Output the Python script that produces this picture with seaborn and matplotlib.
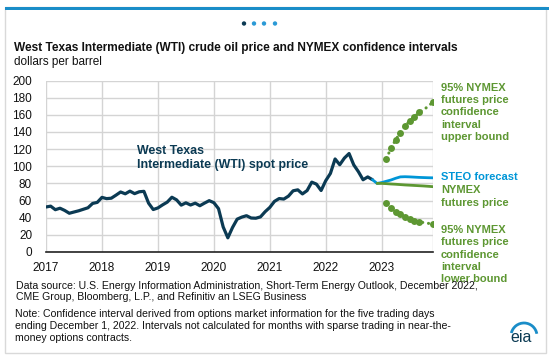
import numpy as np
import pandas as pd
import matplotlib
matplotlib.use("Agg")
import matplotlib.pyplot as plt
from matplotlib.patches import Rectangle, Arc, Ellipse
import seaborn as sns

# monthly WTI spot price, Jan 2017 - Nov 2022
wti_spot = [
    52.50, 53.47, 49.33, 51.06, 48.48, 45.18, 46.63, 48.04, 49.82, 51.58, 56.64, 57.88,
    63.70, 62.23, 62.73, 66.25, 69.98, 67.87, 70.98, 68.06, 70.23, 70.75, 56.96, 49.52,
    51.38, 54.95, 58.15, 63.86, 60.83, 54.66, 57.35, 54.81, 56.95, 53.96, 57.03, 59.88,
    57.52, 50.54, 29.21, 16.55, 28.56, 38.31, 40.71, 42.34, 39.63, 39.40, 40.94, 47.02,
    52.00, 59.04, 62.33, 61.72, 65.17, 71.38, 72.49, 67.73, 71.65, 81.48, 79.15, 71.71,
    83.22, 91.64, 108.50, 101.78, 109.55, 114.84, 101.62, 93.67, 84.26, 87.55, 84.37,
]
# STEO forecast, Nov 2022 - Dec 2023
steo_forecast = [84.4, 80.0, 81.0, 82.5, 84.0, 86.0, 87.6, 87.8, 87.6, 87.3, 87.0, 86.8, 86.6, 86.5]
# NYMEX futures price, Dec 2022 - Dec 2023
nymex_futures = [80.0, 80.0, 79.7, 79.3, 79.0, 78.6, 78.2, 77.9, 77.6, 77.3, 77.0, 76.6, 76.2]
# 95% confidence interval, Feb 2023 - Dec 2023
ci_upper = [109, 121, 131, 139, 146.5, 153, 157, 163, 166, 170, 175]
ci_lower = [56.6, 50.8, 46.9, 43.8, 41.0, 38.4, 36.4, 35.2, 34.3, 33.4, 32.3]
years = [2017, 2018, 2019, 2020, 2021, 2022, 2023]


def month_axis(start_year, start_month, n):
    return [start_year + (start_month - 1 + i) / 12 for i in range(n)]


spot_df = pd.DataFrame({"x": month_axis(2017, 1, len(wti_spot)), "y": wti_spot})
steo_df = pd.DataFrame({"x": month_axis(2022, 11, len(steo_forecast)), "y": steo_forecast})
nymex_df = pd.DataFrame({"x": month_axis(2022, 12, len(nymex_futures)), "y": nymex_futures})
up_df = pd.DataFrame({"x": month_axis(2023, 2, len(ci_upper)), "y": ci_upper})
lo_df = pd.DataFrame({"x": month_axis(2023, 2, len(ci_lower)), "y": ci_lower})

sns.set_style("white")
plt.rcParams["font.family"] = ["Liberation Sans", "DejaVu Sans"]

navy = "#0b3a53"
blue = "#0096d7"
green = "#5d9732"
W, H = 554, 359

fig = plt.figure(figsize=(W / 100, H / 100), dpi=100)
ax = fig.add_axes([46 / W, 1 - 252 / H, (433 - 46) / W, (252 - 80.5) / H])

sns.lineplot(data=spot_df, x="x", y="y", ax=ax, color=navy, linewidth=2.3)
sns.lineplot(data=steo_df, x="x", y="y", ax=ax, color=blue, linewidth=2.0)
sns.lineplot(data=nymex_df, x="x", y="y", ax=ax, color=green, linewidth=2.0)
marks = [0, 1, 2, 3, 4, 5, 6, 7, 10]
for df in (up_df, lo_df):
    sns.lineplot(data=df, x="x", y="y", ax=ax, color=green, linewidth=2.2,
                 linestyle=(0, (0.05, 1.9)), dash_capstyle="round",
                 marker="o", markersize=5, markeredgewidth=0, markevery=marks)

ax.set_xlim(2017, 2023 + 11 / 12)
ax.set_ylim(0, 200)
ax.set_xticks(years + [2023 + 11 / 12])
ax.set_xticklabels([str(y) for y in years] + [""])
ax.set_yticks(range(0, 201, 20))
ax.grid(True, color="#d4d4d4", linewidth=1)
ax.set_xlabel("")
ax.set_ylabel("")
for s in ("top", "right", "left"):
    ax.spines[s].set_visible(False)
ax.spines["bottom"].set_color("#222222")
ax.spines["bottom"].set_linewidth(1.2)
ax.tick_params(axis="x", length=4, width=1, color="#222222", pad=3, labelsize=8.5, labelcolor="#111111")
ax.tick_params(axis="y", length=0, pad=10, labelsize=8.5, labelcolor="#111111")

# frame and header
fig.patches.append(Rectangle((5 / W, 1 - 353 / H), 541 / W, 346 / H, transform=fig.transFigure,
                             fill=False, edgecolor="#d9d9d9", linewidth=1))
fig.patches.append(Rectangle((5 / W, 1 - 10 / H), 544 / W, 3 / H, transform=fig.transFigure,
                             facecolor="#1a8dc8", edgecolor="none"))
for i, cx in enumerate([244, 254, 264, 275]):
    fig.patches.append(Ellipse((cx / W, 1 - 23.5 / H), 4.4 / W, 4.4 / H, transform=fig.transFigure,
                               facecolor=navy if i == 0 else "#2a9ad6", edgecolor="none"))

fig.text(14 / W, 1 - 48 / H, "West Texas Intermediate (WTI) crude oil price and NYMEX confidence intervals",
         fontsize=8.55, fontweight="bold", va="center", color="#111111")
fig.text(14 / W, 1 - 62.5 / H, "dollars per barrel", fontsize=8.5, va="center", color="#111111")

# series labels
fig.text(137 / W, 1 - 158 / H, "West Texas\nIntermediate (WTI) spot price", fontsize=8.9,
         fontweight="bold", color=navy, va="center", linespacing=1.12)
fig.text(441 / W, 1 - 112.5 / H, "95% NYMEX\nfutures price\nconfidence\ninterval\nupper bound",
         fontsize=8, fontweight="bold", color=green, va="center", linespacing=1.28)
fig.text(441 / W, 1 - 177.3 / H, "STEO forecast", fontsize=8, fontweight="bold", color=blue, va="center")
fig.text(441 / W, 1 - 196.5 / H, "NYMEX\nfutures price", fontsize=8, fontweight="bold", color=green,
         va="center", linespacing=1.28)
fig.text(441 / W, 1 - 254.5 / H, "95% NYMEX\nfutures price\nconfidence\ninterval\nlower bound",
         fontsize=8, fontweight="bold", color=green, va="center", linespacing=1.28)

# footnotes
fig.text(16 / W, 1 - 291.5 / H,
         "Data source: U.S. Energy Information Administration, Short-Term Energy Outlook, December 2022,\n"
         "CME Group, Bloomberg, L.P., and Refinitiv an LSEG Business",
         fontsize=7.6, va="center", color="#111111", linespacing=1.22)
fig.text(15 / W, 1 - 326 / H,
         "Note: Confidence interval derived from options market information for the five trading days\n"
         "ending December 1, 2022. Intervals not calculated for months with sparse trading in near-the-\n"
         "money options contracts.",
         fontsize=7.6, va="center", color="#111111", linespacing=1.22)

# eia logo
fig.text(521 / W, 1 - 338 / H, "eia", fontsize=11.5, color=navy, ha="center", va="center")
fig.patches.append(Arc((524 / W, 1 - 336 / H), 26 / W, 26 / H, theta1=15, theta2=160,
                       transform=fig.transFigure, color="#1a8dc8", linewidth=2))

fig.savefig("out.png", dpi=100)
